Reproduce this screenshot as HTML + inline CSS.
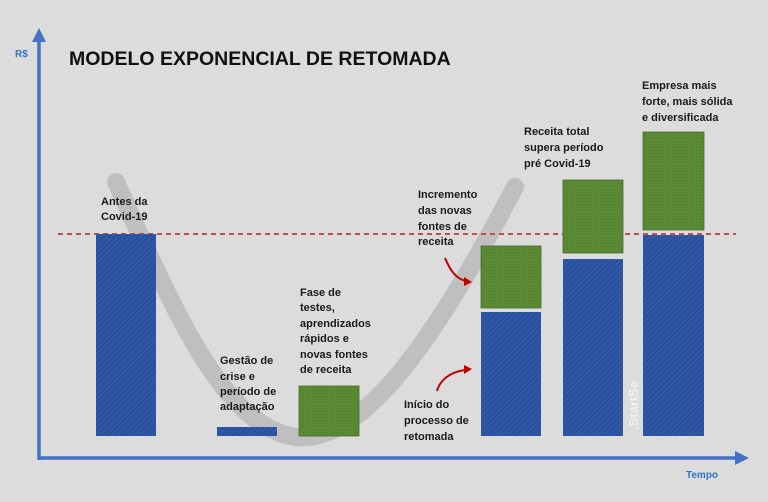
<!DOCTYPE html>
<html><head><meta charset="utf-8"><style>
html,body{margin:0;padding:0;background:#dcdcdc;}
svg{display:block}
text{font-family:"Liberation Sans",sans-serif;font-weight:bold;}
</style></head><body>
<svg width="768" height="502" viewBox="0 0 768 502" xmlns="http://www.w3.org/2000/svg">
<defs>
<pattern id="bl" width="4" height="4" patternUnits="userSpaceOnUse" patternTransform="rotate(45)">
<rect width="4" height="4" fill="#3058a8"/><rect width="1.5" height="4" fill="#2a4d96"/></pattern>
<pattern id="gr" width="3" height="3" patternUnits="userSpaceOnUse">
<rect width="3" height="3" fill="#5a8a34"/><rect width="1" height="1" fill="#4d7a2c"/></pattern>
</defs>
<rect width="768" height="502" fill="#dcdcdc"/>
<path d="M116,182 C170,300 220,425 295,437 C365,445 440,330 515,187" fill="none" stroke="#bfbfbf" stroke-width="18" stroke-linecap="round"/>
<line x1="58" y1="234" x2="736" y2="234" stroke="#c0504d" stroke-width="2" stroke-dasharray="5,4"/>
<rect x="96" y="234" width="60" height="202" fill="url(#bl)"/>
<rect x="217" y="427" width="60" height="9" fill="url(#bl)"/>
<rect x="299" y="386" width="60" height="50" fill="url(#gr)" stroke="#4a6b30" stroke-width="0.8"/>
<rect x="481" y="246" width="60" height="62" fill="url(#gr)" stroke="#4a6b30" stroke-width="0.8"/>
<rect x="481" y="312" width="60" height="124" fill="url(#bl)"/>
<rect x="563" y="180" width="60" height="73" fill="url(#gr)" stroke="#4a6b30" stroke-width="0.8"/>
<rect x="563" y="259" width="60" height="177" fill="url(#bl)"/>
<rect x="643" y="132" width="61" height="98" fill="url(#gr)" stroke="#4a6b30" stroke-width="0.8"/>
<rect x="643" y="235" width="61" height="201" fill="url(#bl)"/>
<text x="0" y="0" transform="translate(638,430) rotate(-90)" fill="#f0f0f0" font-size="13">.StartSe</text>
<line x1="39" y1="460" x2="39" y2="38" stroke="#4472c4" stroke-width="3.5"/>
<polygon points="39,28 32,42 46,42" fill="#4472c4"/>
<line x1="38" y1="458" x2="738" y2="458" stroke="#4472c4" stroke-width="3.5"/>
<polygon points="749,458 735,451 735,465" fill="#4472c4"/>
<text x="15" y="57" font-size="10" fill="#2e75c6">R$</text>
<text x="686" y="478" font-size="10" fill="#2e75c6">Tempo</text>
<text x="69" y="65" font-size="19.5" fill="#111">MODELO EXPONENCIAL DE RETOMADA</text>
<g font-size="11" fill="#1a1a1a">
<text x="101" y="205">Antes da</text><text x="101" y="220">Covid-19</text>
<text x="220" y="364">Gestão de</text><text x="220" y="380">crise e</text><text x="220" y="395">período de</text><text x="220" y="410">adaptação</text>
<text x="300" y="296">Fase de</text><text x="300" y="311">testes,</text><text x="300" y="327">aprendizados</text><text x="300" y="342">rápidos e</text><text x="300" y="358">novas fontes</text><text x="300" y="373">de receita</text>
<text x="418" y="198">Incremento</text><text x="418" y="214">das novas</text><text x="418" y="230">fontes de</text><text x="418" y="245">receita</text>
<text x="404" y="408">Início do</text><text x="404" y="424">processo de</text><text x="404" y="440">retomada</text>
<text x="524" y="135">Receita total</text><text x="524" y="151">supera período</text><text x="524" y="167">pré Covid-19</text>
<text x="642" y="89">Empresa mais</text><text x="642" y="105">forte, mais sólida</text><text x="642" y="121">e diversificada</text>
</g>
<path d="M445,258 C450,270 456,279 466,281" fill="none" stroke="#c00000" stroke-width="2"/>
<polygon points="472,282 464,277 464,286" fill="#c00000"/>
<path d="M437,391 C440,380 450,372 465,370" fill="none" stroke="#c00000" stroke-width="2"/>
<polygon points="472,369 464,365 464,374" fill="#c00000"/>
</svg>
</body></html>
